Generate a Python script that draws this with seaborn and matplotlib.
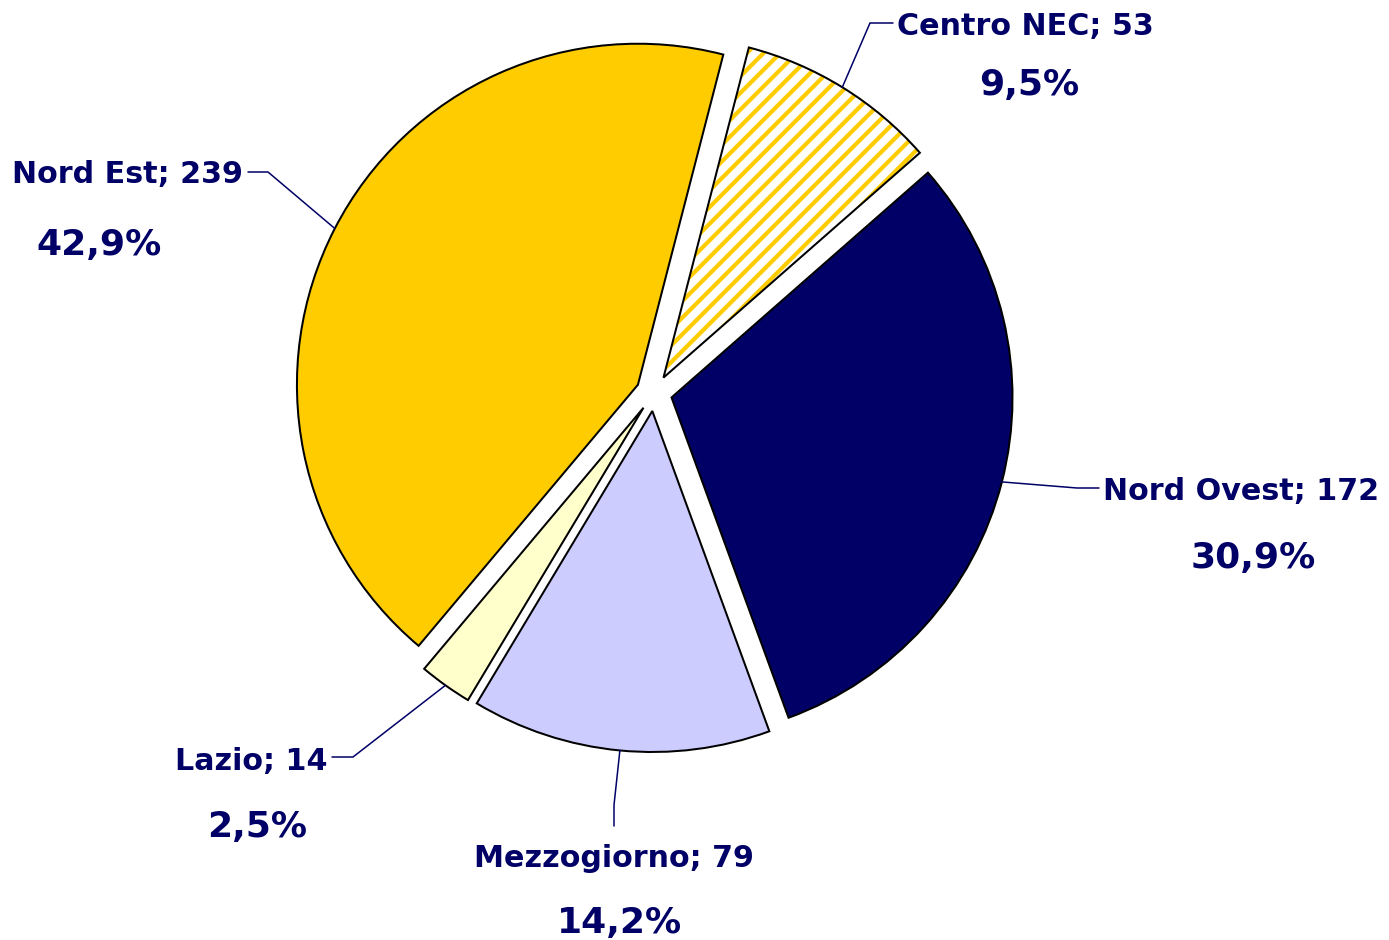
import matplotlib
matplotlib.use("Agg")
import matplotlib.pyplot as plt
import matplotlib.patches as mpatches
import numpy as np
import seaborn as sns

# ---- data ----
categories = ["Centro NEC", "Nord Ovest", "Mezzogiorno", "Lazio", "Nord Est"]
values = [53, 172, 79, 14, 239]
percent_labels = ["9,5%", "30,9%", "14,2%", "2,5%", "42,9%"]
colors = ["#FFFFFF", "#000066", "#CCCCFF", "#FFFFCC", "#FFCC00"]
hatch_color = "#FFCC00"
text_color = "#000066"

# ---- layout ----
W, H, DPI = 1389, 940, 100
CX, CY, R = 654, 393, 341  # pie centre / radius in pixels

sns.set_theme(style="white")
plt.rcParams["font.family"] = ["DejaVu Sans"]
plt.rcParams["hatch.linewidth"] = 3.0

fig = plt.figure(figsize=(W / DPI, H / DPI), dpi=DPI)
ax = fig.add_axes([0, 0, 1, 1])


def px(x, y):
    return ((x - CX) / R, (CY - y) / R)


wedges, _ = ax.pie(
    values,
    colors=colors,
    startangle=75.5,
    counterclock=False,
    explode=[0.053] * len(values),
    wedgeprops=dict(edgecolor="black", linewidth=1.45),
)

# hatched slice (Centro NEC): yellow diagonal stripes on white, black outline
hw = wedges[0]
hw.set_edgecolor(hatch_color)
hw.set_hatch("//")
hw.set_linewidth(0)
outline = mpatches.Wedge(hw.center, hw.r, hw.theta1, hw.theta2, fill=False,
                         edgecolor="black", linewidth=1.45, zorder=hw.get_zorder() + 0.1)
ax.add_patch(outline)

ax.set_xlim(-CX / R, (W - CX) / R)
ax.set_ylim(-(H - CY) / R, CY / R)
ax.axis("off")

# label layout: (label anchor x, baseline y, ha), (pct centre x, baseline y), elbow, end
layout = {
    "Centro NEC": ((897, 35, "left"), (1029, 95), (870, 23), (893, 23)),
    "Nord Ovest": ((1103, 500, "left"), (1253, 568), (1077, 488), (1099, 488)),
    "Mezzogiorno": ((614, 867, "center"), (619, 933), (614, 805), (614, 826)),
    "Lazio": ((327, 770, "right"), (257, 837), (353, 757), (332, 757)),
    "Nord Est": ((243, 183, "right"), (99, 255), (268, 172), (248, 172)),
}

for w, cat, val, pct in zip(wedges, categories, values, percent_labels):
    (lx, ly, ha), (qx, qy), elbow, end = layout[cat]
    mid = np.deg2rad((w.theta1 + w.theta2) / 2)
    sx = w.center[0] + w.r * np.cos(mid)
    sy = w.center[1] + w.r * np.sin(mid)
    ex, ey = px(*elbow)
    fx, fy = px(*end)
    ax.plot([sx, ex, fx], [sy, ey, fy], color=text_color, lw=1.1,
            solid_joinstyle="miter", zorder=5)
    tx, ty = px(lx, ly)
    ax.text(tx, ty, f"{cat}; {val}", ha=ha, va="baseline", fontsize=21.7,
            fontweight="bold", color=text_color)
    qx_, qy_ = px(qx, qy)
    ax.text(qx_, qy_, pct, ha="center", va="baseline", fontsize=26,
            fontweight="bold", color=text_color)

fig.savefig("out.png", dpi=DPI, facecolor="white")
